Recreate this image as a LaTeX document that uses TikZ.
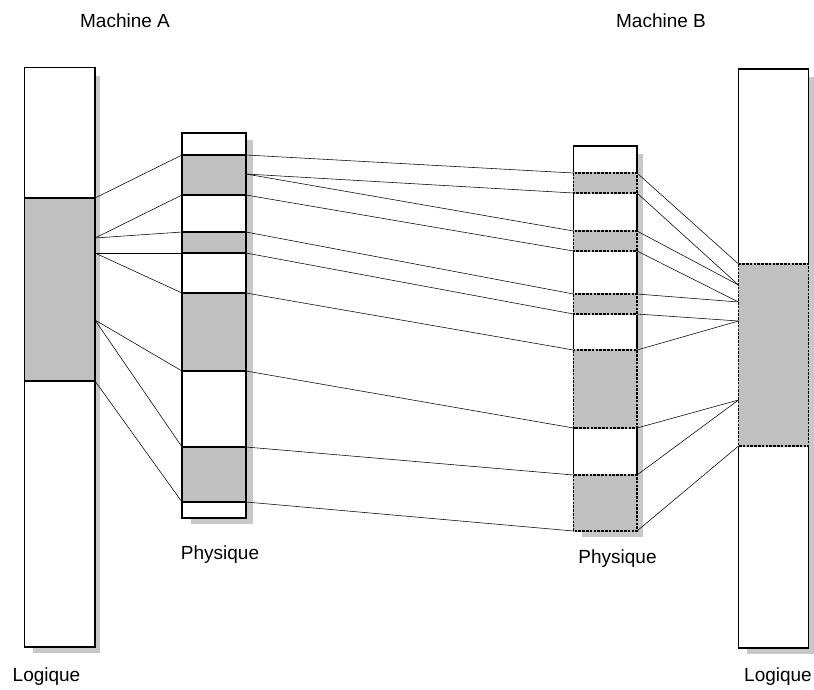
\documentclass[tikz,border=0pt]{standalone}
\usepackage{fontspec}
\setmainfont{Liberation Sans}
\definecolor{seggray}{HTML}{C0C0C0}
\definecolor{shadowgray}{HTML}{C8C8C8}
\begin{document}
\begin{tikzpicture}[x=1pt,y=-1pt,
  box/.style={draw=black,line width=1.2pt,fill=white},
  shade/.style={fill=shadowgray,draw=none},
  seg/.style={fill=seggray,draw=black,line width=1.2pt},
  dseg/.style={draw=black,line width=1.3pt,dash pattern=on 2.6pt off 1.2pt},
  link/.style={draw=black,line width=0.55pt},
  lbl/.style={font=\fontsize{19}{22}\selectfont,anchor=base,inner sep=0pt}]
\useasboundingbox (0,0) rectangle (814,689);

% ---- column outlines with drop shadows ----
% logical memory, machine A
\fill[shade] (33,76) rectangle (100,653);
\draw[box] (24.5,67.5) rectangle (95,647);
\draw[seg] (24.5,198) rectangle (95,381);

% physical memory, machine A
\fill[shade] (191,140) rectangle (253,524);
\draw[box] (182,133) rectangle (246,518);
\foreach \a/\b in {155/195,232/253,293/371,447/502}
  \draw[seg] (182,\a) rectangle (246,\b);

% physical memory, machine B
\fill[shade] (582,154) rectangle (643,537);
\draw[box] (573.5,146) rectangle (637,531);
\foreach \a/\b in {173/193,231/251,294/314,350/428,475/531}{
  \fill[seggray] (572.8,\a-0.6) rectangle (637.7,\b+0.6);
  \draw[dseg] (573.5,\a) rectangle (637,\b);
}

% logical memory, machine B
\fill[shade] (747,77) rectangle (814,654);
\draw[box] (738.5,69) rectangle (808.5,648);
\fill[seggray] (737.8,263.4) rectangle (809.2,446.6);
\draw[dseg] (738.5,264) rectangle (808.5,446);

% ---- anchor points of the mappings ----
\foreach \i/\y in {1/198,2/238,3/253,4/320,5/381}
  \coordinate (la\i) at (95,\y);
\foreach \i/\y in {1/155,2/195,3/232,4/253,5/293,6/371,7/447,8/502}
  \coordinate (pal\i) at (182,\y);
\foreach \i/\y in {1/155,2/174,3/195,4/232,5/253,6/293,7/371,8/447,9/502}
  \coordinate (par\i) at (246,\y);
\foreach \i/\y in {1/173,2/193,3/231,4/251,5/294,6/314,7/350,8/428,9/475,10/531}{
  \coordinate (pbl\i) at (573.5,\y);
  \coordinate (pbr\i) at (637,\y);
}
\foreach \i/\y in {1/264,2/285,3/302,4/321,5/400,6/446}
  \coordinate (lb\i) at (738.5,\y);

% logical A -> physical A
\foreach \s/\t in {1/1,2/2,2/3,3/4,3/5,4/6,4/7,5/8}
  \draw[link] (la\s) -- (pal\t);
% physical A -> physical B
\foreach \s/\t in {1/1,2/2,2/3,3/4,4/5,5/6,6/7,7/8,8/9,9/10}
  \draw[link] (par\s) -- (pbl\t);
% physical B -> logical B
\foreach \s/\t in {1/1,2/2,3/2,4/3,5/3,6/4,7/4,8/5,9/5,10/6}
  \draw[link] (pbr\s) -- (lb\t);

% ---- labels ----
\node[lbl] (titleA) at (125,27) {Machine A};
\node[lbl] (titleB) at (661,27) {Machine B};
\node[lbl] (physA) at (220,559) {Physique};
\node[lbl] (physB) at (617.5,563) {Physique};
\node[lbl] (logA) at (46.5,681) {Logique};
\node[lbl] (logB) at (778,681) {Logique};
\end{tikzpicture}
\end{document}
